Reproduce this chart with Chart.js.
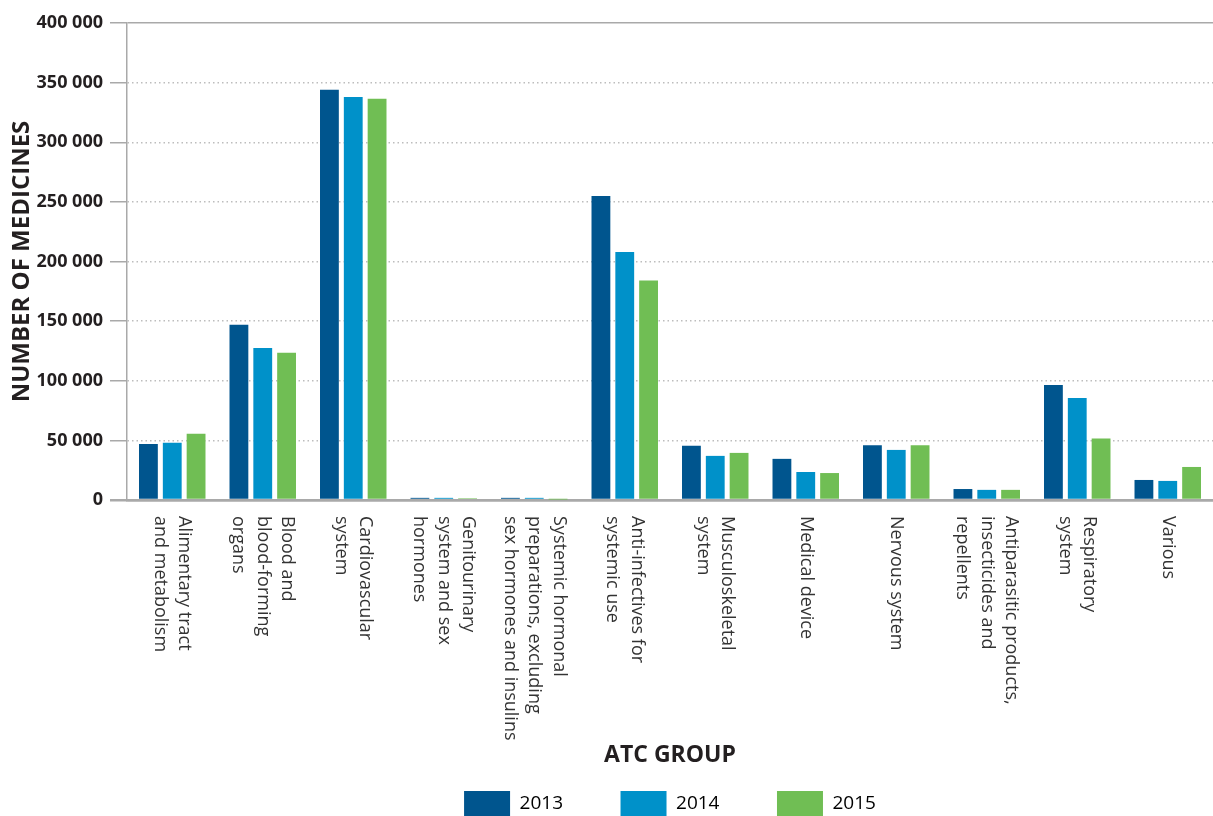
<!DOCTYPE html>
<html lang="en">
<head>
    <title>Number of medicines by ATC group</title>
    <meta charset="utf-8">
    <style>
        body { margin: 0; background: #fff; }
        canvas { display: block; }
    </style>
</head>
<body>
    <canvas id="atcChart" width="1213" height="816"></canvas>

    <script src="https://cdn.jsdelivr.net/npm/chart.js"></script>
    <script>
        // categories (each entry = lines of the rotated label)
        const categories = [
            ['Alimentary tract', 'and metabolism'],
            ['Blood and', 'blood-forming', 'organs'],
            ['Cardiovascular', 'system'],
            ['Genitourinary', 'system and sex', 'hormones'],
            ['Systemic hormonal', 'preparations, excluding', 'sex hormones and insulins'],
            ['Anti-infectives for', 'systemic use'],
            ['Musculoskeletal', 'system'],
            ['Medical device'],
            ['Nervous system'],
            ['Antiparasitic products,', 'insecticides and', 'repellents'],
            ['Respiratory', 'system'],
            ['Various']
        ];
        const years = ['2013', '2014', '2015'];
        const values2013 = [47000, 147000, 344000, 1800, 1800, 255000, 45500, 34500, 46000, 9200, 96500, 16800];
        const values2014 = [48000, 127500, 338000, 1800, 1800, 208000, 37000, 23500, 42000, 8500, 85500, 16000];
        const values2015 = [55500, 123500, 336500, 1500, 400, 184000, 39500, 22600, 46000, 8500, 51500, 27700];
        const yTicks = [0, 50000, 100000, 150000, 200000, 250000, 300000, 350000, 400000];

        const colors = ['#00558e', '#0091c9', '#70be54'];
        const axisGrey = '#a9a9a9';

        function formatNumber(v) {
            return String(v).replace(/\B(?=(\d{3})+(?!\d))/g, ' ');
        }

        // x labels are rotated clockwise (read top to bottom), chart.js only rotates the other way
        const xLabelPlugin = {
            id: 'xLabels',
            afterDraw(chart) {
                const ctx = chart.ctx;
                const x = chart.scales.x;
                const lineH = 24.5;
                ctx.save();
                ctx.font = '18px "Open Sans"';
                ctx.fillStyle = '#333333';
                ctx.textAlign = 'left';
                ctx.textBaseline = 'middle';
                categories.forEach((lines, i) => {
                    const px = x.getPixelForValue(i);
                    ctx.save();
                    ctx.translate(px, x.top + 16);
                    ctx.rotate(Math.PI / 2);
                    lines.forEach((line, k) => {
                        ctx.fillText(line, 0, (k - (lines.length - 1) / 2) * lineH);
                    });
                    ctx.restore();
                });
                ctx.restore();
            }
        };

        const series = [values2013, values2014, values2015];

        new Chart(document.getElementById('atcChart'), {
            type: 'bar',
            data: {
                labels: categories,
                datasets: years.map((year, i) => ({
                    label: year,
                    data: series[i],
                    backgroundColor: colors[i],
                    borderWidth: 0,
                    categoryPercentage: 0.79,
                    barPercentage: 0.79
                }))
            },
            options: {
                responsive: false,
                animation: false,
                layout: {
                    padding: { top: 23, left: 0, right: -4, bottom: -10 }
                },
                plugins: {
                    tooltip: { enabled: false },
                    legend: {
                        position: 'bottom',
                        fullSize: false,
                        labels: {
                            boxWidth: 46,
                            boxHeight: 25,
                            padding: 10,
                            color: '#333333',
                            font: { family: 'Open Sans', size: 19 },
                            generateLabels(chart) {
                                return chart.data.datasets.map((ds, i) => ({
                                    text: i < chart.data.datasets.length - 1 ? ds.label + '\u2003\u2003\u2002' : ds.label,
                                    fillStyle: ds.backgroundColor,
                                    strokeStyle: ds.backgroundColor,
                                    lineWidth: 0,
                                    hidden: false,
                                    datasetIndex: i
                                }));
                            }
                        }
                    }
                },
                scales: {
                    x: {
                        grid: { display: false },
                        border: { color: axisGrey, width: 2.5 },
                        ticks: { display: false },
                        title: {
                            display: true,
                            text: 'ATC GROUP',
                            color: '#231f20',
                            font: { family: 'Open Sans', size: 23, weight: 'bold' },
                            padding: { top: 0, bottom: 12 }
                        },
                        afterFit(scale) {
                            scale.height = 281;
                        }
                    },
                    y: {
                        min: 0,
                        max: 400000,
                        afterBuildTicks(scale) {
                            scale.ticks = yTicks.map(v => ({ value: v }));
                        },
                        ticks: {
                            padding: 7,
                            color: '#231f20',
                            font: { family: 'Open Sans', size: 18, weight: 'bold' },
                            callback: v => formatNumber(v)
                        },
                        grid: {
                            tickLength: 17,
                            color: ctx => (ctx.tick.value === 400000 || ctx.tick.value === 0) ? axisGrey : '#bdbdbd',
                            lineWidth: ctx => ctx.tick.value === 0 ? 2.5 : 1.5,
                            tickColor: axisGrey,
                            tickWidth: ctx => ctx.tick.value === 0 ? 2.5 : 1.5,
                            tickBorderDash: []
                        },
                        border: {
                            color: axisGrey,
                            width: 1.5,
                            dash: ctx => (ctx.tick && ctx.tick.value > 0 && ctx.tick.value < 400000) ? [1.5, 3] : []
                        },
                        title: {
                            display: true,
                            text: 'NUMBER OF MEDICINES',
                            color: '#231f20',
                            font: { family: 'Open Sans', size: 24, weight: 'bold' },
                            padding: { top: 8, bottom: 0 }
                        },
                        afterFit(scale) {
                            scale.width = 127;
                        }
                    }
                }
            },
            plugins: [xLabelPlugin]
        });
    </script>
</body>
</html>
